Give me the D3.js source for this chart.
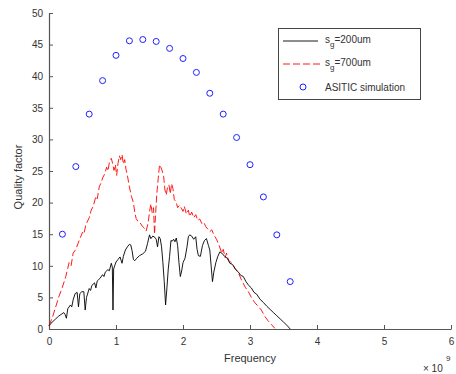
<!DOCTYPE html>
<html>
<head>
<meta charset="utf-8">
<script src="https://cdn.jsdelivr.net/npm/d3@7"></script>
<style>
  html, body { margin: 0; padding: 0; background: #fff; }
  svg { display: block; font-family: "Liberation Sans", Arial, sans-serif; }
</style>
</head>
<body>
<svg id="chart" width="456" height="374"></svg>
<script>
// Frequency axis values are in units of 1e9 Hz (shown with the ×10^9 multiplier).
const xTicks = [0, 1, 2, 3, 4, 5, 6];
const yTicks = [0, 5, 10, 15, 20, 25, 30, 35, 40, 45, 50];

// Measured quality factor, ground spacing 200 um
const freq200 = [0,0.03,0.06,0.1,0.14,0.18,0.22,0.24,0.26,0.28,0.32,0.34,0.36,0.39,0.42,0.44,0.46,0.49,0.52,0.54,0.56,0.6,0.62,0.64,0.68,0.7,0.72,0.76,0.8,0.82,0.84,0.88,0.9,0.93,0.945,0.955,0.965,0.98,1.0,1.03,1.06,1.09,1.11,1.14,1.17,1.2,1.22,1.24,1.26,1.28,1.31,1.35,1.4,1.44,1.47,1.5,1.52,1.55,1.58,1.6,1.62,1.64,1.66,1.68,1.7,1.72,1.74,1.76,1.78,1.8,1.82,1.84,1.86,1.88,1.9,1.92,1.94,1.96,1.98,2.0,2.03,2.06,2.08,2.1,2.13,2.16,2.19,2.21,2.23,2.26,2.29,2.32,2.35,2.38,2.4,2.42,2.44,2.46,2.49,2.52,2.55,2.58,2.62,2.66,2.7,2.74,2.78,2.82,2.86,2.9,2.94,2.98,3.02,3.06,3.1,3.15,3.2,3.25,3.3,3.35,3.4,3.45,3.5,3.55,3.6];
const q200 = [0.5,0.9,1.2,1.6,2.0,2.3,2.6,2.3,1.7,3.2,3.8,3.5,4.6,5.6,5.8,3.5,5.6,5.9,5.9,3.0,5.0,6.4,6.1,6.9,7.3,6.5,7.6,8.0,8.6,8.3,9.0,9.4,9.2,10.4,9.8,3.0,9.5,10.0,10.6,11.0,11.4,10.4,11.5,12.5,13.0,13.4,13.3,12.4,11.0,10.8,11.2,11.6,11.9,12.3,13.5,14.9,14.3,14.7,14.5,14.2,13.0,14.6,14.3,13.0,10.5,7.5,3.8,6.5,9.5,11.5,14.0,13.9,14.2,13.8,14.4,13.2,10.5,8.3,9.2,10.5,11.2,13.0,14.6,14.9,14.7,14.2,14.6,12.6,11.6,11.5,13.2,14.0,14.3,13.2,12.5,10.0,7.5,9.0,10.5,11.5,12.2,12.0,11.5,11.2,10.4,10.2,9.5,9.1,8.5,8.3,7.5,6.9,6.5,5.8,5.5,4.7,4.2,3.6,3.1,2.6,2.1,1.6,1.1,0.6,0.0];

// Measured quality factor, ground spacing 700 um
const freq700 = [0,0.05,0.1,0.15,0.2,0.25,0.3,0.33,0.36,0.4,0.45,0.5,0.52,0.55,0.6,0.63,0.66,0.7,0.72,0.75,0.78,0.8,0.83,0.86,0.88,0.9,0.93,0.95,0.97,0.99,1.01,1.03,1.05,1.07,1.09,1.11,1.13,1.15,1.17,1.2,1.23,1.26,1.28,1.3,1.33,1.36,1.39,1.42,1.45,1.48,1.5,1.52,1.54,1.56,1.575,1.59,1.61,1.63,1.65,1.67,1.69,1.71,1.73,1.75,1.77,1.79,1.81,1.83,1.85,1.87,1.9,1.92,1.95,1.98,2.0,2.02,2.05,2.08,2.1,2.13,2.16,2.19,2.22,2.25,2.28,2.31,2.34,2.37,2.4,2.43,2.46,2.5,2.54,2.58,2.6,2.63,2.65,2.68,2.73,2.78,2.83,2.88,2.93,2.97,3.02,3.07,3.12,3.17,3.22,3.27,3.32,3.37];
const q700 = [0.5,1.8,3.5,5.2,6.6,8.3,10.5,10.0,12.0,12.6,14.0,15.3,15.0,16.5,17.6,18.8,19.4,21.0,20.6,22.5,23.2,23.9,24.5,25.6,25.0,26.3,27.0,26.2,25.1,26.0,24.3,26.2,27.4,26.8,27.6,26.1,26.8,25.2,24.3,22.5,21.0,20.0,18.5,17.5,17.0,16.8,16.3,16.0,15.5,16.8,18.5,19.8,18.4,19.2,15.0,18.0,21.5,23.8,26.0,25.6,25.0,24.3,22.0,21.2,22.5,22.8,21.4,23.0,22.2,20.5,20.0,19.2,19.6,19.0,18.6,19.4,18.2,18.8,17.8,18.5,17.6,18.1,17.2,17.4,16.7,16.9,16.2,15.8,15.4,15.7,14.9,14.2,13.2,12.0,12.6,11.3,12.0,10.9,10.4,9.5,8.8,7.6,6.6,6.0,5.0,4.2,3.6,3.0,2.0,1.3,0.7,0.1];

// ASITIC simulation
const freqSim = [0.2,0.4,0.6,0.8,1.0,1.2,1.4,1.6,1.8,2.0,2.2,2.4,2.6,2.8,3.0,3.2,3.4,3.6];
const qSim = [15.0,25.7,34.0,39.3,43.3,45.6,45.8,45.5,44.4,42.8,40.6,37.3,34.0,30.3,26.0,20.9,14.9,7.5];

const svg = d3.select("#chart");
const x = d3.scaleLinear().domain([0, 6]).range([49, 451]);
const y = d3.scaleLinear().domain([0, 50]).range([329, 13]);

const axisColor = "#555";
const textColor = "#333";

// Axes (ticks drawn inward)
const xAxis = svg.append("g").attr("transform", `translate(0,${y(0)})`)
  .call(d3.axisBottom(x).tickValues(xTicks).tickFormat(d3.format("d")).tickSizeInner(-4).tickSizeOuter(0).tickPadding(9));
const yAxis = svg.append("g").attr("transform", `translate(${x(0)},0)`)
  .call(d3.axisLeft(y).tickValues(yTicks).tickFormat(d3.format("d")).tickSizeInner(-4).tickSizeOuter(0).tickPadding(6));
[xAxis, yAxis].forEach(g => {
  g.select(".domain").attr("stroke", axisColor).attr("stroke-width", 1.2);
  g.selectAll(".tick line").attr("stroke", axisColor);
  g.selectAll(".tick text").attr("fill", textColor).attr("font-size", 10)
    .attr("font-family", "Liberation Sans, Arial, sans-serif");
});

const line = d3.line().x(d => x(d[0])).y(d => y(d[1]));

// Measured curves
svg.append("path")
  .datum(d3.zip(freq700, q700))
  .attr("fill", "none").attr("stroke", "#ff0000").attr("stroke-width", 0.9)
  .attr("stroke-dasharray", "7,3")
  .attr("d", line);

svg.append("path")
  .datum(d3.zip(freq200, q200))
  .attr("fill", "none").attr("stroke", "#000").attr("stroke-width", 0.9)
  .attr("d", line);

// Simulation markers
svg.append("g").selectAll("circle")
  .data(d3.zip(freqSim, qSim))
  .join("circle")
  .attr("cx", d => x(d[0])).attr("cy", d => y(d[1])).attr("r", 3)
  .attr("fill", "none").attr("stroke", "#2020ff").attr("stroke-width", 1);

// Axis titles
svg.append("text").attr("x", (x(0) + x(6)) / 2).attr("y", 362)
  .attr("text-anchor", "middle").attr("font-size", 11).attr("fill", textColor)
  .text("Frequency");
svg.append("text").attr("transform", `translate(22,${(y(0) + y(50)) / 2 + 6}) rotate(-90)`)
  .attr("text-anchor", "middle").attr("font-size", 11).attr("fill", textColor)
  .text("Quality factor");

// Exponent label
const expo = svg.append("text").attr("x", 423).attr("y", 372).attr("font-size", 10).attr("fill", textColor);
expo.append("tspan").text("× 10");
svg.append("text").attr("x", 446).attr("y", 361).attr("font-size", 8).attr("fill", textColor).text("9");

// Legend
const legend = svg.append("g");
legend.append("rect").attr("x", 278.5).attr("y", 28.5).attr("width", 142).attr("height", 71)
  .attr("fill", "#fff").attr("stroke", "#444").attr("stroke-width", 1);

const legendItems = [
  { sub: "g", rest: "=200um", kind: "solid" },
  { sub: "g", rest: "=700um", kind: "dash" },
  { text: "ASITIC simulation", kind: "circle" }
];
legendItems.forEach((it, i) => {
  const cy = 41 + i * 23;
  if (it.kind === "solid") {
    legend.append("line").attr("x1", 283).attr("x2", 318).attr("y1", cy).attr("y2", cy)
      .attr("stroke", "#000").attr("stroke-width", 0.9);
  } else if (it.kind === "dash") {
    legend.append("line").attr("x1", 283).attr("x2", 321).attr("y1", cy).attr("y2", cy)
      .attr("stroke", "#ff0000").attr("stroke-width", 0.9).attr("stroke-dasharray", "7,3");
  } else {
    legend.append("circle").attr("cx", 303).attr("cy", cy).attr("r", 3)
      .attr("fill", "none").attr("stroke", "#2020ff").attr("stroke-width", 1);
  }
  if (it.text) {
    legend.append("text").attr("x", 325).attr("y", cy + 4).attr("font-size", 10)
      .attr("fill", textColor).text(it.text);
  } else {
    const t = legend.append("text").attr("x", 325).attr("y", cy + 2).attr("font-size", 10).attr("fill", textColor);
    t.append("tspan").text("s");
    t.append("tspan").attr("font-size", 8).attr("dy", 4).text(it.sub);
    t.append("tspan").attr("dy", -4).text(it.rest);
  }
});
</script>
</body>
</html>
